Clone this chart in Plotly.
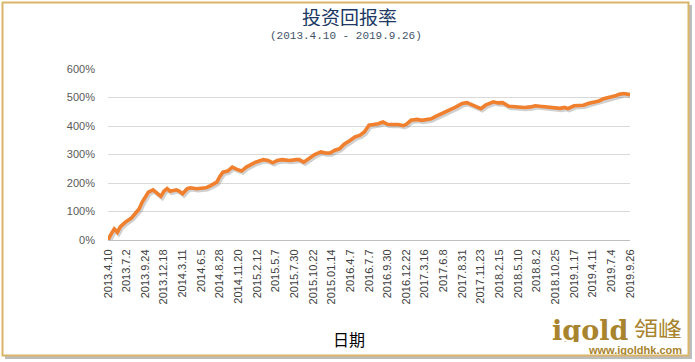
import plotly.graph_objects as go

# ---- data ----
tick_labels = ["2013.4.10", "2013.7.2", "2013.9.24", "2013.12.18", "2014.3.11", "2014.6.5",
               "2014.8.28", "2014.11.20", "2015.2.12", "2015.5.7", "2015.7.30", "2015.10.22",
               "2015.01.14", "2016.4.7", "2016.7.7", "2016.9.30", "2016.12.22", "2017.3.16",
               "2017.6.8", "2017.8.31", "2017.11.23", "2018.2.15", "2018.5.10", "2018.8.2",
               "2018.10.25", "2019.1.17", "2019.4.11", "2019.7.4", "2019.9.26"]
weeks_per_tick = 12

weeks = [0, 1, 2, 4, 6, 8, 11, 15, 18, 20,
         22, 24, 26, 29, 31, 34, 36, 38, 40, 44,
         46, 48, 51, 53, 57, 60, 63, 66, 70, 72,
         74, 77, 80, 83, 86, 89, 92, 95, 100, 103,
         106, 109, 112, 117, 121, 123, 126, 130, 133, 137,
         140, 143, 146, 149, 152, 156, 159, 162, 165, 168,
         172, 174, 177, 180, 183, 187, 190, 192, 195, 199,
         202, 205, 208, 211, 215, 218, 221, 224, 228, 231,
         234, 237, 240, 243, 246, 248, 251, 254, 258, 261,
         265, 268, 272, 275, 278, 281, 285, 288, 291, 294,
         296, 300, 303, 306, 309, 313, 316, 319, 322, 326,
         329, 332, 336]

returns_pct = [0, 15, 21, 39, 27, 47, 62, 77, 97, 109,
               133, 150, 168, 176, 168, 153, 171, 180, 171, 176,
               171, 162, 180, 183, 180, 180, 183, 191, 203, 223,
               238, 242, 256, 248, 242, 256, 265, 273, 282, 279,
               271, 279, 282, 279, 282, 282, 273, 289, 300, 309,
               305, 305, 315, 320, 336, 350, 362, 367, 379, 403,
               406, 408, 414, 406, 405, 405, 401, 406, 420, 423,
               420, 423, 425, 434, 444, 450, 458, 467, 479, 482,
               475, 467, 461, 473, 481, 485, 481, 482, 469, 467,
               464, 465, 467, 471, 469, 467, 465, 464, 462, 465,
               461, 471, 473, 473, 479, 485, 488, 496, 499, 505,
               511, 514, 510]

y_ticks = [0, 100, 200, 300, 400, 500, 600]
y_tick_labels = ["0%", "100%", "200%", "300%", "400%", "500%", "600%"]

# ---- layout geometry ----
W, H = 695, 362
ML, MR, MT, MB = 108, 65, 69, 122
PW, PH = W - ML - MR, H - MT - MB


def px(x):
    return (x - ML) / PW


def py(y):
    return (H - MB - y) / PH


tickvals = [i * weeks_per_tick for i in range(len(tick_labels))]
xmax = tickvals[-1]

fig = go.Figure()

# invisible carrier so the main (visible) axes get drawn
fig.add_trace(go.Scatter(x=weeks, y=returns_pct, mode="lines",
                         line=dict(color="rgba(0,0,0,0)", width=0),
                         hoverinfo="skip", showlegend=False))
# soft shadow of the line (same data on a slightly offset overlaid axis)
dx = 1.5 * xmax / PW
dy = 1.8 * 600 / PH
fig.add_trace(go.Scatter(x=weeks, y=returns_pct, mode="lines", xaxis="x2", yaxis="y2",
                         line=dict(color="rgba(120,120,120,0.35)", width=4),
                         hoverinfo="skip", showlegend=False))
# main line, on an unshifted overlay drawn above the shadow
fig.add_trace(go.Scatter(x=weeks, y=returns_pct, mode="lines", xaxis="x3", yaxis="y3",
                         line=dict(color="#F07F2E", width=3.6),
                         showlegend=False, name="投资回报率"))

GOLD = "#A8842E"

fig.update_layout(
    width=W, height=H,
    margin=dict(l=ML, r=MR, t=MT, b=MB, pad=0),
    paper_bgcolor="white", plot_bgcolor="white",
    font=dict(family="Liberation Sans, Arial, sans-serif", color="#595959"),
    xaxis=dict(range=[0, xmax], tickmode="array", tickvals=tickvals, ticktext=tick_labels,
               tickangle=-90, tickfont=dict(size=11, color="#404040"),
               showgrid=False, zeroline=False, showline=True, linecolor="#BFBFBF",
               linewidth=1, ticks="", ticklabelstandoff=4, fixedrange=True),
    yaxis=dict(range=[0, 600], tickmode="array", tickvals=y_ticks, ticktext=y_tick_labels,
               tickfont=dict(size=11, color="#595959"), showgrid=True,
               gridcolor="#D9D9D9", gridwidth=1, zeroline=False, showline=False,
               ticks="", ticklabelstandoff=12, fixedrange=True),
    xaxis2=dict(range=[-dx, xmax - dx], overlaying="x", visible=False, fixedrange=True),
    yaxis2=dict(range=[dy, 600 + dy], overlaying="y", visible=False, fixedrange=True),
    xaxis3=dict(range=[0, xmax], overlaying="x", visible=False, fixedrange=True),
    yaxis3=dict(range=[0, 600], overlaying="y", visible=False, fixedrange=True),
    shapes=[
        # shadow of the frame
        dict(type="rect", xref="paper", yref="paper", layer="below",
             x0=px(5), x1=px(692), y0=py(359), y1=py(5),
             line=dict(width=0), fillcolor="#BDBDBD"),
        # gold frame
        dict(type="rect", xref="paper", yref="paper", layer="below",
             x0=px(2.5), x1=px(688.5), y0=py(355.5), y1=py(2.5),
             line=dict(color="#D9B56A", width=2), fillcolor="white"),
    ],
    annotations=[
        dict(text="投资回报率", xref="paper", yref="paper", x=px(349), y=py(15.5),
             showarrow=False, xanchor="center", yanchor="middle", height=20,
             font=dict(family="Noto Sans CJK SC", size=19, color="#203864")),
        dict(text="(2013.4.10 - 2019.9.26)", xref="paper", yref="paper", x=px(346), y=py(35.5),
             showarrow=False, xanchor="center", yanchor="middle", height=11,
             font=dict(family="Liberation Mono, DejaVu Sans Mono, monospace", size=11,
                       color="#44546A")),
        dict(text="日期", xref="paper", yref="paper", x=px(349), y=py(339),
             showarrow=False, xanchor="center", yanchor="middle",
             font=dict(family="Noto Sans CJK SC", size=16, color="#000000")),
        dict(text="<b>igold</b>", xref="paper", yref="paper", x=px(630), y=py(330),
             showarrow=False, xanchor="right", yanchor="middle", height=24,
             font=dict(family="DejaVu Serif", size=27, color=GOLD)),
        dict(text="領峰", xref="paper", yref="paper", x=px(658), y=py(328),
             showarrow=False, xanchor="center", yanchor="middle", height=20,
             font=dict(family="Noto Sans CJK TC", size=24, color=GOLD)),
        dict(text="<b>www.igoldhk.com</b>", xref="paper", yref="paper", x=px(635), y=py(349.5),
             showarrow=False, xanchor="center", yanchor="middle", height=10,
             font=dict(family="Liberation Sans, Arial", size=11, color=GOLD)),
    ],
)

fig.write_html("out.html", post_script="document.body.style.margin='0';",
               config={"displayModeBar": False})
